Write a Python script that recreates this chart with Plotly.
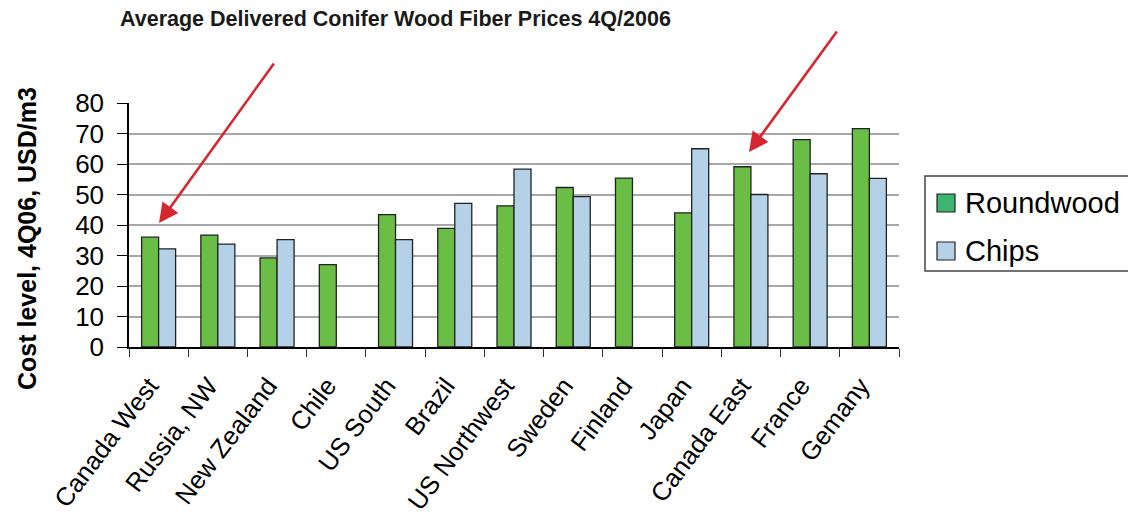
import plotly.graph_objects as go

# Regional delivered conifer wood fiber prices, 4Q/2006 (USD/m3)
regions = ["Canada West", "Russia, NW", "New Zealand", "Chile", "US South", "Brazil",
           "US Northwest", "Sweden", "Finland", "Japan", "Canada East", "France", "Gemany"]
roundwood = [36.0, 36.7, 29.2, 27.0, 43.4, 38.9, 46.3, 52.3, 55.4, 44.0, 59.1, 68.0, 71.6]
chips = [32.2, 33.7, 35.2, None, 35.2, 47.1, 58.3, 49.3, None, 65.0, 50.0, 56.8, 55.3]
y_ticks = [0, 10, 20, 30, 40, 50, 60, 70, 80]

BAR_GREEN = "#6ABD45"
BAR_BLUE = "#B4D1E7"
KEY_GREEN = "#3DB56E"
FONT = "Arial, Liberation Sans, sans-serif"

W, H = 1128, 519
L, R, T, B = 129, 229, 103, 172
PW, PH = W - L - R, H - T - B


def px_x(x):
    return (x - L) / PW


def px_y(y):
    return (H - B - y) / PH


fig = go.Figure()
fig.add_trace(go.Bar(x=regions, y=roundwood, name="Roundwood", marker_color=BAR_GREEN,
                     marker_line=dict(color="#222222", width=1.3), showlegend=False))
fig.add_trace(go.Bar(x=regions, y=chips, name="Chips", marker_color=BAR_BLUE,
                     marker_line=dict(color="#222222", width=1.3), showlegend=False))

# key box with swatches
shapes = [dict(type="rect", xref="paper", yref="paper",
               x0=px_x(925), x1=px_x(1150), y0=px_y(271), y1=px_y(176),
               line=dict(color="#444444", width=1.5), fillcolor="white")]
annotations = []
for (label, color, cy) in [("Roundwood", KEY_GREEN, 203), ("Chips", BAR_BLUE, 251)]:
    shapes.append(dict(type="rect", xref="paper", yref="paper",
                       x0=px_x(937), x1=px_x(955), y0=px_y(cy + 9), y1=px_y(cy - 9),
                       line=dict(color="#222222", width=1.2), fillcolor=color))
    annotations.append(dict(text=label, xref="paper", yref="paper", x=px_x(963), y=px_y(cy),
                            xanchor="left", yanchor="middle", showarrow=False,
                            font=dict(family=FONT, size=29, color="black")))

# chart heading
annotations.append(dict(text="<b>Average Delivered Conifer Wood Fiber Prices 4Q/2006</b>",
                        xref="paper", yref="paper", x=px_x(118), y=px_y(19),
                        xanchor="left", yanchor="middle", showarrow=False,
                        font=dict(family=FONT, size=21.5, color="#1a1a1a")))
# value axis title
annotations.append(dict(text="<b>Cost level, 4Q06, USD/m3</b>", xref="paper", yref="paper",
                        x=px_x(27), y=px_y(239), textangle=-90, xanchor="center",
                        yanchor="middle", showarrow=False,
                        font=dict(family=FONT, size=25, color="black")))
# red pointer arrows
for (hx, hy, tx, ty) in [(159, 223, 275, 62), (749, 152, 838, 30)]:
    annotations.append(dict(text="", xref="paper", yref="paper", x=px_x(hx), y=px_y(hy),
                            ax=tx - hx, ay=ty - hy, axref="pixel", ayref="pixel",
                            showarrow=True, arrowhead=2, arrowsize=1.5, arrowwidth=2.6,
                            arrowcolor="#D62630", standoff=0))

fig.update_layout(
    width=W, height=H,
    margin=dict(l=L, r=R, t=T, b=B, autoexpand=False),
    paper_bgcolor="white", plot_bgcolor="white",
    barmode="group", bargap=0.426, bargroupgap=0,
    font=dict(family=FONT, color="black"),
    shapes=shapes, annotations=annotations,
    showlegend=False,
)
fig.update_xaxes(type="category", tickson="boundaries", ticks="outside", ticklen=8,
                 tickcolor="#333333", showline=True, linecolor="black", linewidth=1.5,
                 tickangle=-53, tickfont=dict(family=FONT, size=25.5, color="black"),
                 showgrid=False, ticklabelstandoff=12, ticklabelshift=-9, automargin=False)
fig.update_yaxes(range=[0, 80], tickvals=y_ticks, ticks="outside", ticklen=10,
                 tickcolor="black", showline=True, linecolor="black", linewidth=1.5,
                 showgrid=True, gridcolor="#A8A8A8", gridwidth=1.5,
                 tickfont=dict(family=FONT, size=26, color="black"), ticklabelstandoff=8,
                 zeroline=False, automargin=False)

fig.write_html("out.html")
